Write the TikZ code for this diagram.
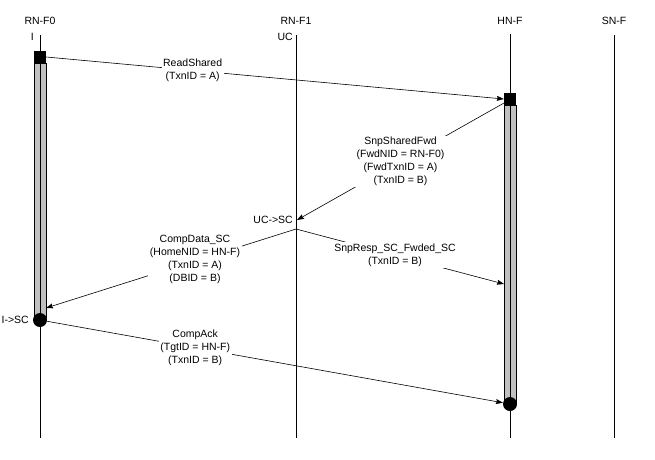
\documentclass[tikz,border=0pt]{standalone}
\usepackage{fontspec}
\setmainfont{Liberation Sans}
\usetikzlibrary{arrows.meta}
\begin{document}
\begin{tikzpicture}[x=1pt,y=-1pt,
  lifeline/.style={line width=1pt},
  msg/.style={line width=0.6pt,-{Stealth[length=7pt,width=5pt,inset=1pt]}},
  lbl/.style={fill=white,align=center,inner sep=1.5pt,font=\fontsize{10.5}{13}\selectfont},
  hdr/.style={font=\fontsize{10.5}{13}\selectfont,inner sep=0pt},
  actbar/.style={draw,line width=0.6pt,fill={rgb,255:red,192;green,192;blue,192}},
  sqbox/.style={fill=black,inner sep=0pt,minimum size=12pt},
  dot/.style={circle,fill=black,inner sep=0pt,minimum size=14pt},
]
\useasboundingbox (0,0) rectangle (655,459);

% headers
\node[hdr] (h0) at (40,21) {RN-F0};
\node[hdr] (h1) at (296,21) {RN-F1};
\node[hdr] (h2) at (510,21) {HN-F};
\node[hdr] (h3) at (614,21) {SN-F};

% state labels
\node[hdr,anchor=east] (s0) at (34,37) {I};
\node[hdr,anchor=east] (s1) at (293,37) {UC};

% activation bars
\draw[actbar] (34,63) rectangle (46,320);
\draw[actbar] (504,105) rectangle (516,404);

% lifelines
\coordinate (t0) at (40,35);  \coordinate (b0) at (40,438);
\coordinate (t1) at (296,35); \coordinate (b1) at (296,438);
\coordinate (t2) at (510,34); \coordinate (b2) at (510,438);
\coordinate (t3) at (614,35); \coordinate (b3) at (614,438);
\draw[lifeline] (t0) -- (b0);
\draw[lifeline] (t1) -- (b1);
\draw[lifeline] (t2) -- (b2);
\draw[lifeline] (t3) -- (b3);

% squares and circles
\node[sqbox] (sq0) at (40,57) {};
\node[sqbox] (sq2) at (510,99) {};
\node[dot] (c0) at (40,320) {};
\node[dot] (c2) at (510,404) {};

% state change labels
\node[hdr,anchor=east] (s2) at (293,220) {UC->SC};
\node[hdr,anchor=east] (s3) at (29,320) {I->SC};

% message end points
\coordinate (hnA) at (504,103);
\coordinate (ucIn) at (297,220);
\coordinate (ucOut) at (296,229);
\coordinate (rnIn) at (46,308);
\coordinate (hnB) at (504,284);

% messages
\draw[msg] (sq0.east) -- node[lbl,pos=0.32] (m1) {ReadShared\\(TxnID = A)} (sq2.west);
\draw[msg] (hnA) -- node[lbl,pos=0.5] (m2) {SnpSharedFwd\\(FwdNID = RN-F0)\\(FwdTxnID = A)\\(TxnID = B)} (ucIn);
\draw[msg] (ucOut) -- node[lbl,pos=0.404,yshift=2pt] (m3) {CompData\_SC\\(HomeNID = HN-F)\\(TxnID = A)\\(DBID = B)} (rnIn);
\draw[msg] (ucOut) -- node[lbl,pos=0.476] (m4) {SnpResp\_SC\_Fwded\_SC\\(TxnID = B)} (hnB);
\draw[msg] (c0) -- node[lbl,pos=0.325] (m5) {CompAck\\(TgtID = HN-F)\\(TxnID = B)} (c2);
\end{tikzpicture}
\end{document}
